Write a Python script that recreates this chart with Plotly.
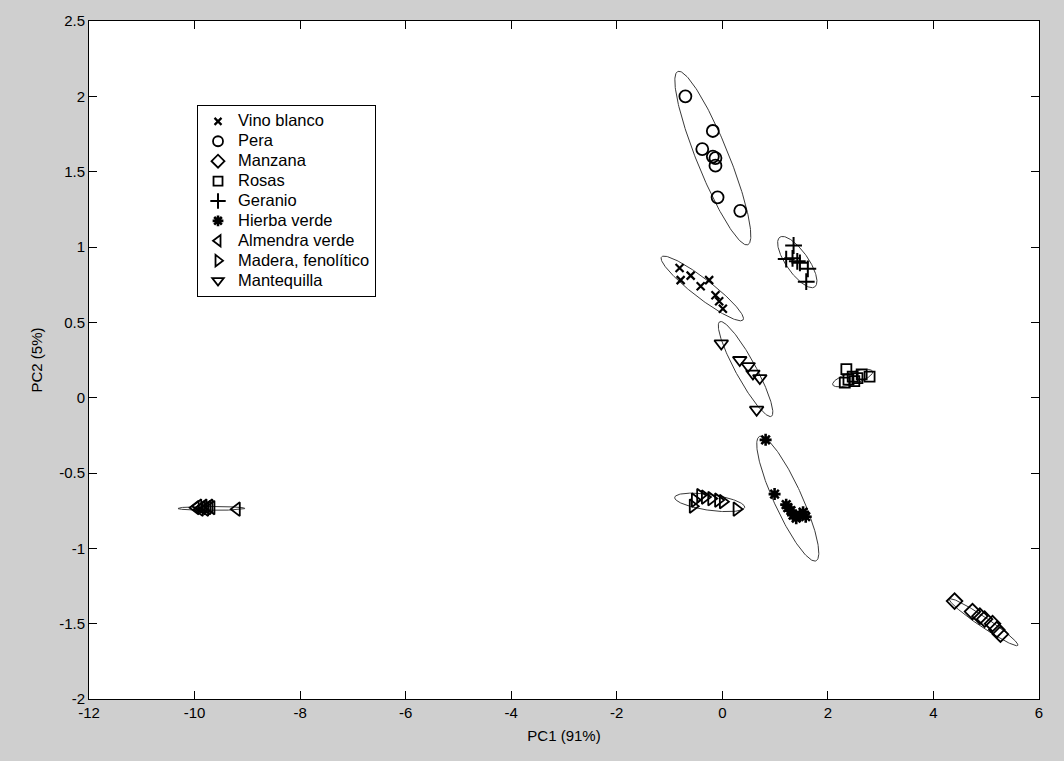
import numpy as np
import plotly.graph_objects as go

# ---- sample scores on the first two principal components ----
groups = ["Vino blanco", "Pera", "Manzana", "Rosas", "Geranio",
          "Hierba verde", "Almendra verde", "Madera, fenolítico", "Mantequilla"]

vino_x = [-0.81, -0.79, -0.60, -0.41, -0.25, -0.13, -0.06, 0.01]
vino_y = [0.86, 0.78, 0.81, 0.74, 0.78, 0.68, 0.64, 0.59]

pera_x = [-0.70, -0.18, -0.38, -0.18, -0.13, -0.13, -0.09, 0.34]
pera_y = [2.00, 1.77, 1.65, 1.60, 1.59, 1.54, 1.33, 1.24]

manzana_x = [4.40, 4.74, 4.88, 4.97, 5.12, 5.20, 5.27]
manzana_y = [-1.35, -1.42, -1.45, -1.47, -1.50, -1.54, -1.57]

rosas_x = [2.35, 2.32, 2.47, 2.56, 2.64, 2.79, 2.39, 2.50]
rosas_y = [0.19, 0.10, 0.14, 0.13, 0.155, 0.14, 0.12, 0.11]

geranio_x = [1.35, 1.21, 1.33, 1.42, 1.47, 1.62, 1.59]
geranio_y = [1.01, 0.92, 0.925, 0.905, 0.895, 0.855, 0.77]

hierba_x = [0.82, 0.99, 1.21, 1.24, 1.30, 1.34, 1.40, 1.53, 1.47, 1.58]
hierba_y = [-0.28, -0.64, -0.71, -0.73, -0.75, -0.78, -0.80, -0.76, -0.78, -0.79]

almendra_x = [-9.98, -9.93, -9.90, -9.86, -9.83, -9.80, -9.76, -9.72, -9.68, -9.20]
almendra_y = [-0.73, -0.72, -0.74, -0.73, -0.72, -0.74, -0.73, -0.72, -0.73, -0.74]

madera_x = [-0.56, -0.52, -0.42, -0.33, -0.21, -0.08, 0.01, 0.27]
madera_y = [-0.72, -0.68, -0.65, -0.66, -0.67, -0.68, -0.69, -0.74]

mantequilla_x = [-0.02, 0.33, 0.49, 0.58, 0.71, 0.65]
mantequilla_y = [0.36, 0.25, 0.21, 0.16, 0.13, -0.08]

# ---- confidence ellipses: centre and two conjugate semi-axes (data units) ----
ell_cx = [-0.38, -0.18, 4.95, 2.47, 1.42, 1.24, -9.68, -0.24, 0.44]
ell_cy = [0.725, 1.59, -1.49, 0.13, 0.90, -0.67, -0.735, -0.695, 0.19]
ell_ux = [0.773, 0.663, 0.648, 0.379, 0.331, 0.536, 0.634, 0.663, 0.489]
ell_uy = [-0.209, -0.575, -0.154, 0.044, -0.165, -0.413, 0.0, -0.033, -0.314]
ell_vx = [0.110, 0.281, 0.053, -0.036, 0.171, 0.242, 0.0, 0.021, 0.167]
ell_vy = [0.050, 0.040, 0.027, 0.038, 0.042, 0.038, 0.013, 0.052, 0.032]

xs = [vino_x, pera_x, manzana_x, rosas_x, geranio_x, hierba_x, almendra_x, madera_x, mantequilla_x]
ys = [vino_y, pera_y, manzana_y, rosas_y, geranio_y, hierba_y, almendra_y, madera_y, mantequilla_y]

symbols = ["x-thin-open", "circle-open", "diamond-open", "square-open", "cross-thin-open",
           "asterisk-open", "triangle-left-open", "triangle-right-open", "triangle-down-open"]
sizes = [8, 12, 12, 10, 12, 10, 12, 12, 12]
legend_sizes = [7, 10, 10, 9, 11, 9, 10, 10, 10]
widths = [2.2, 1.8, 1.8, 1.8, 2.0, 2.6, 1.8, 1.8, 1.8]

x_ticks = list(range(-12, 7, 2))
y_ticks = [-2, -1.5, -1, -0.5, 0, 0.5, 1, 1.5, 2, 2.5]

fig = go.Figure()

# ellipses under the points
t = np.linspace(0, 2 * np.pi, 200)
for i in range(len(ell_cx)):
    ex = ell_cx[i] + np.cos(t) * ell_ux[i] + np.sin(t) * ell_vx[i]
    ey = ell_cy[i] + np.cos(t) * ell_uy[i] + np.sin(t) * ell_vy[i]
    fig.add_trace(go.Scatter(x=ex, y=ey, mode="lines", showlegend=False, hoverinfo="skip",
                             line=dict(color="#3a3a3a", width=1)))

# sample points
for name, x, y, sym, sz, lw in zip(groups, xs, ys, symbols, sizes, widths):
    fig.add_trace(go.Scatter(x=x, y=y, mode="markers", name=name, showlegend=False,
                             legendgroup=name,
                             marker=dict(symbol=sym, size=sz, color="black",
                                         line=dict(color="black", width=lw))))

# legend entries with smaller symbols
for name, sym, sz, lw in zip(groups, symbols, legend_sizes, widths):
    fig.add_trace(go.Scatter(x=[None], y=[None], mode="markers", legendgroup=name,
                             name="<span style='font-size:16.5px'>%s</span>" % name,
                             marker=dict(symbol=sym, size=sz, color="black",
                                         line=dict(color="black", width=lw))))

font = "Liberation Sans, Arial, sans-serif"
axis_common = dict(showgrid=False, zeroline=False, showline=True, linecolor="black",
                   linewidth=1, mirror="ticks", ticks="inside", ticklen=8,
                   tickcolor="black", tickfont=dict(family=font, size=15, color="black"))

fig.update_layout(
    width=1064, height=761,
    paper_bgcolor="#cfcfcf", plot_bgcolor="white",
    margin=dict(l=89, r=25, t=18, b=62),
    font=dict(family=font, size=15, color="black"),
    xaxis=dict(range=[-12, 6], tickvals=x_ticks, ticktext=["%g" % v for v in x_ticks],
               title=dict(text="PC1 (91%)", standoff=10, font=dict(size=15)), **axis_common),
    yaxis=dict(range=[-2, 2.5], tickvals=y_ticks, ticktext=["%g" % v for v in y_ticks],
               title=dict(text="PC2 (5%)", standoff=12, font=dict(size=15)), **axis_common),
    legend=dict(x=0.1137, y=0.8755, xanchor="left", yanchor="top",
                bgcolor="white", bordercolor="black", borderwidth=1,
                font=dict(family=font, size=13, color="black"),
                itemsizing="trace", tracegroupgap=0),
)

fig.write_html("out.html")
